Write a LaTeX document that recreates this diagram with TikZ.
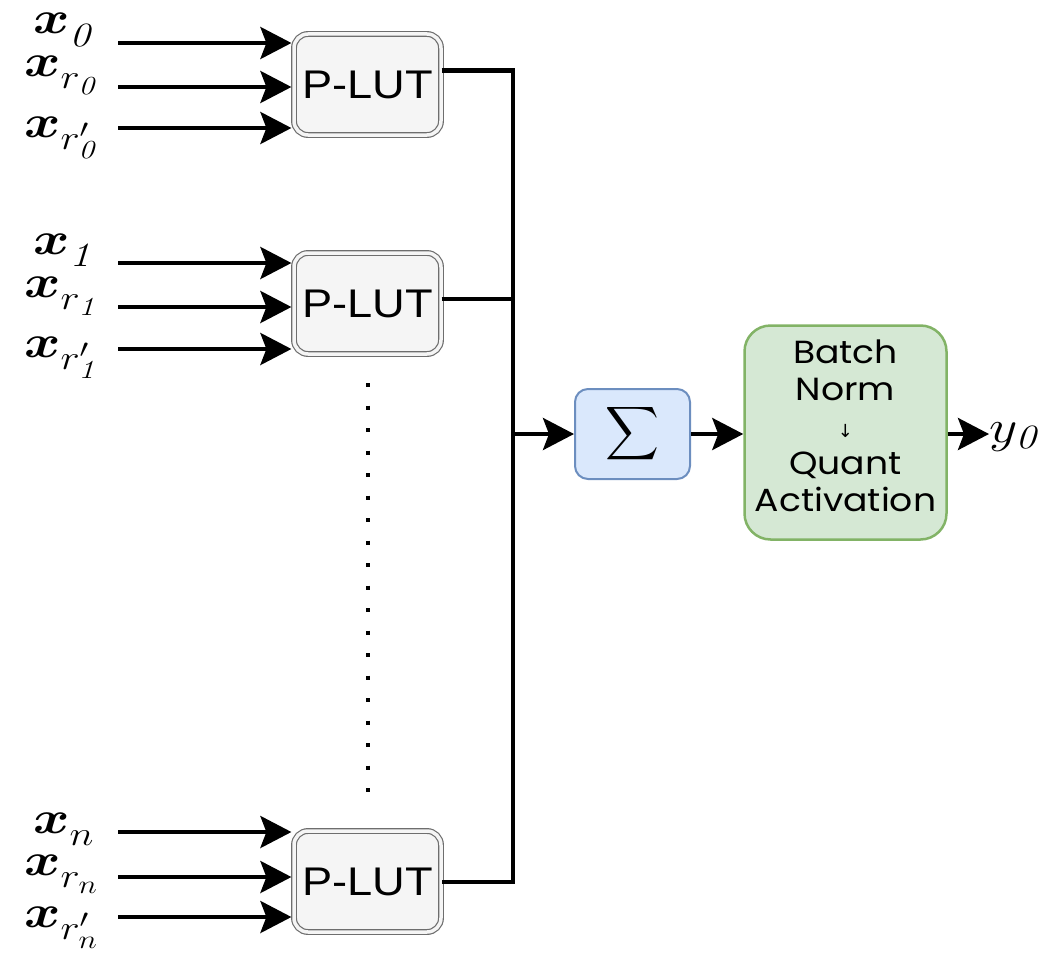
\RequirePackage{fix-cm}
\documentclass[tikz,border=0pt]{standalone}
\usepackage{amsmath,bm,exscale}
\usepackage{fontspec}
\newfontfamily\lutfont{Liberation Sans}
\newfontfamily\popfont{Poppins}
\newfontfamily\djfont{DejaVu Sans}
\usetikzlibrary{arrows.meta}
\DeclareMathSizes{46}{46}{34}{26}
\DeclareMathSizes{40}{40}{28}{20}
\newcommand{\wide}[1]{\scalebox{1.13}[1]{#1}}
\newcommand{\wlab}[1]{\scalebox{1.2}[1]{#1}}
\newcommand{\lowsub}[1]{\raisebox{-6pt}{$\scriptstyle #1$}}
\definecolor{lutfill}{HTML}{F5F5F5}
\definecolor{lutdraw}{HTML}{6E6E6E}
\definecolor{sumfill}{HTML}{DAE8FC}
\definecolor{sumdraw}{HTML}{6C8EBF}
\definecolor{bnfill}{HTML}{D5E8D4}
\definecolor{bndraw}{HTML}{82B366}
\begin{document}
\begin{tikzpicture}[x=1pt,y=-1pt,
  arr/.style={line width=4pt,-{Stealth[length=31pt,width=32pt,inset=6pt]}},
  wire/.style={line width=4pt},
  lut/.style={draw=lutdraw,line width=1.2pt,double=lutfill,double distance=3.5pt,fill=lutfill,
    rounded corners=14pt,minimum width=147pt,minimum height=101pt,inner sep=0pt,
    font=\lutfont\fontsize{40}{48}\selectfont},
  lbl/.style={anchor=base west,inner sep=0pt,font=\fontsize{46}{52}\selectfont},
  sumbox/.style={draw=sumdraw,fill=sumfill,line width=2pt,rounded corners=13pt,
    minimum width=115pt,minimum height=90pt,inner sep=0pt,font=\fontsize{40}{48}\selectfont},
  bnbox/.style={draw=bndraw,fill=bnfill,line width=2.5pt,rounded corners=26pt,
    minimum width=202pt,minimum height=214pt,inner sep=0pt},
  bntext/.style={inner sep=0pt,align=center,font=\popfont\fontsize{32}{37}\selectfont}]
\useasboundingbox (0,0) rectangle (1057,958);

% P-LUT boxes
\node[lut] (b1) at (367.5,84.5) {\wide{P-LUT}};
\node[lut] (b2) at (367.5,303.5) {\wide{P-LUT}};
\node[lut] (b3) at (367.5,881.5) {\wide{P-LUT}};

% input labels
\node[lbl] (l01) at (33,34) {\wlab{$\bm{x}_{\lowsub{\mathit{0}}}$}};
\node[lbl] (l02) at (24,76) {\wlab{$\bm{x}_{\lowsub{r_{\mathit{0}}}}$}};
\node[lbl] (l03) at (24,137) {\wlab{$\bm{x}_{\lowsub{r'_{\mathit{0}}}}$}};
\node[lbl] (l11) at (33,254) {\wlab{$\bm{x}_{\lowsub{\mathit{1}}}$}};
\node[lbl] (l12) at (24,297) {\wlab{$\bm{x}_{\lowsub{r_{\mathit{1}}}}$}};
\node[lbl] (l13) at (24,357) {\wlab{$\bm{x}_{\lowsub{r'_{\mathit{1}}}}$}};
\node[lbl] (l21) at (33,833) {\wlab{$\bm{x}_{\lowsub{n}}$}};
\node[lbl] (l22) at (24,875) {\wlab{$\bm{x}_{\lowsub{r_{n}}}$}};
\node[lbl] (l23) at (24,927) {\wlab{$\bm{x}_{\lowsub{r'_{n}}}$}};

% input arrow starts
\coordinate (s01) at (118,43);
\coordinate (s02) at (118,87);
\coordinate (s03) at (118,128);
\coordinate (s11) at (118,263);
\coordinate (s12) at (118,307);
\coordinate (s13) at (118,349);
\coordinate (s21) at (118,832);
\coordinate (s22) at (118,877);
\coordinate (s23) at (118,917);

\foreach \s/\b in {s01/b1,s02/b1,s03/b1,s11/b2,s12/b2,s13/b2,s21/b3,s22/b3,s23/b3}
  \draw[arr,shorten >=2pt] (\s) -- (\s -| \b.west);

% dotted ellipsis
\draw[line width=4pt,dash pattern=on 4pt off 18.5pt] (368,383) -- (368,795);

% sum and batchnorm
\node[sumbox] (sum) at (632.5,434) {\scalebox{1.5}{$\displaystyle\sum$}};
\node[bnbox] (bn) at (845.5,432.5) {};
\node[bntext] (bnt) at (845.5,425.5) {\wide{Batch}\\\wide{Norm}\\{\djfont\fontsize{18}{37}\selectfont\char"2193}\\\wide{Quant}\\\wide{Activation}};
\node[anchor=base west,inner sep=0pt,font=\fontsize{46}{52}\selectfont] (y0) at (989,442) {\wlab{$y_{\mathit{0}}$}};

% bus
\coordinate (bt) at (513,70.5);
\coordinate (bb) at (513,881.5);
\coordinate (j) at (513,434);
\draw[wire] ([yshift=14pt]b1.east) -- (bt) -- (bb) -- (b3.east);
\draw[wire] ([yshift=5pt]b2.east) -- ([yshift=5pt]b2.east -| bt);
\draw[arr] (j) -- (sum.west);
\draw[arr] (sum.east) -- (sum.east -| bn.west);
\draw[arr] (sum.east -| bn.east) -- (sum.east -| y0.west);
\end{tikzpicture}
\end{document}
